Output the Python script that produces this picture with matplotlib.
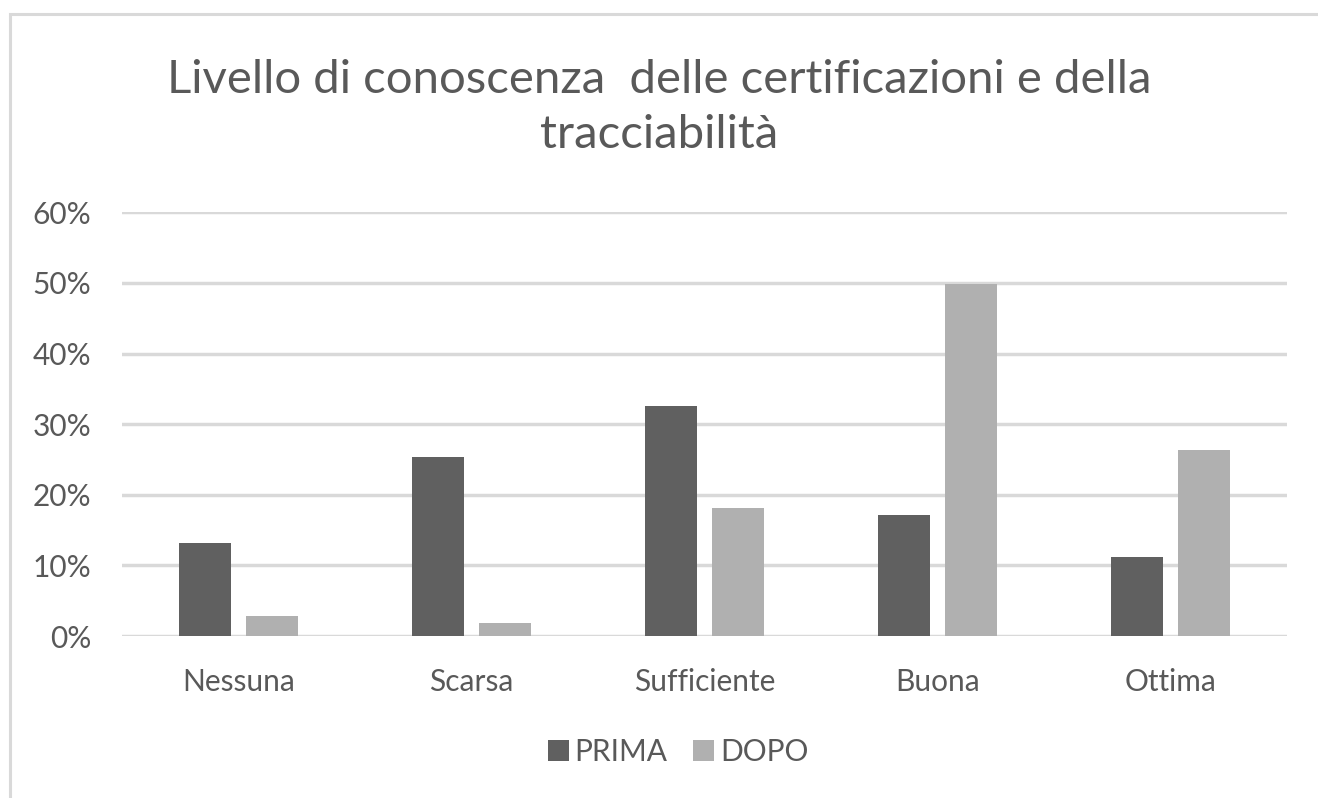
import matplotlib
matplotlib.use("Agg")
import matplotlib.pyplot as plt
from matplotlib.patches import Rectangle
from matplotlib.ticker import FuncFormatter
import numpy as np

categories = ["Nessuna", "Scarsa", "Sufficiente", "Buona", "Ottima"]
prima = [0.131, 0.254, 0.326, 0.172, 0.112]
dopo = [0.029, 0.019, 0.181, 0.498, 0.264]
series_names = ["PRIMA", "DOPO"]
title_lines = ["Livello di conoscenza  delle certificazioni e della", "tracciabilità"]
yticks = [0, 0.1, 0.2, 0.3, 0.4, 0.5, 0.6]

plt.rcParams['font.family'] = ['Lato', 'DejaVu Sans']
txt = '#595959'
fs = 21.5

fig = plt.figure(figsize=(13.18, 7.98), dpi=100)
fig.patch.set_facecolor('white')
fig.add_artist(Rectangle((9.5/1318, -0.05), 1.1, 1 - 13.5/798 + 0.05, transform=fig.transFigure,
                         fill=False, edgecolor='#D9D9D9', linewidth=2.2))

ax = fig.add_axes([122/1318, 1 - 636/798, (1287 - 122)/1318, (636 - 212.3)/798])
x = np.arange(len(categories))
w = 0.225
off = 0.1435
ax.bar(x - off, prima, w, color='#606060', label=series_names[0], zorder=3)
ax.bar(x + off, dopo, w, color='#B0B0B0', label=series_names[1], zorder=3)

ax.set_xlim(-0.5, len(categories) - 0.5)
ax.set_ylim(0, 0.6)
ax.set_yticks(yticks)
ax.yaxis.set_major_formatter(FuncFormatter(lambda v, p: f"{v*100:.0f}%"))
ax.grid(axis='y', color='#D9D9D9', linewidth=2.5, zorder=0)
ax.set_xticks(x)
ax.set_xticklabels(categories)
for s in ax.spines.values():
    s.set_visible(False)
ax.tick_params(axis='both', length=0, labelsize=fs, colors=txt)
ax.tick_params(axis='x', pad=23)
ax.tick_params(axis='y', pad=22)

fig.text(0.5, 1 - 93/798, title_lines[0], ha='center', va='baseline', fontsize=34, color=txt)
fig.text(0.5, 1 - 148/798, title_lines[1], ha='center', va='baseline', fontsize=34, color=txt)

leg = fig.legend(loc='center', bbox_to_anchor=(678/1318, 1 - 752/798), ncol=2, frameon=False,
                 fontsize=fs, handlelength=0.7, handleheight=0.7, handletextpad=0.2, columnspacing=0.85)
for t in leg.get_texts():
    t.set_color(txt)

fig.savefig("out.png", dpi=100)
